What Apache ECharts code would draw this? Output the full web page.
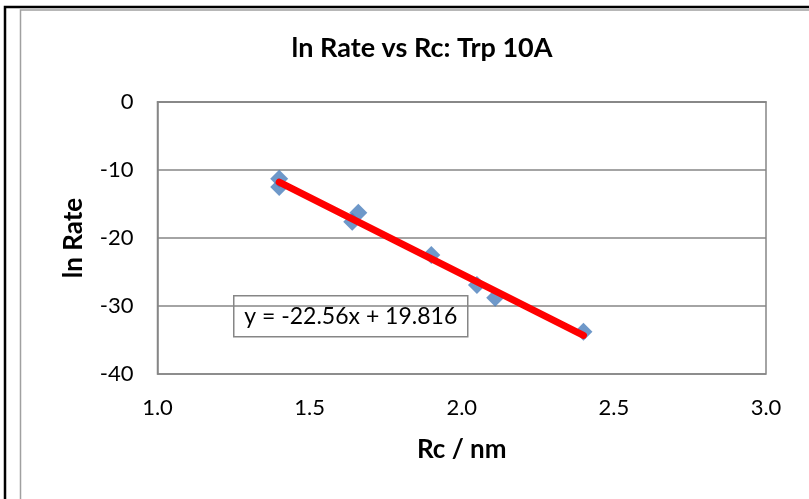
<!DOCTYPE html>
<html>
<head>
<meta charset="utf-8">
<style>
  html, body { margin: 0; padding: 0; background: #fff; }
  #main { width: 809px; height: 499px; }
</style>
<script src="https://cdn.jsdelivr.net/npm/echarts@6/dist/echarts.min.js"></script>
</head>
<body>
<div id="main"></div>
<script>
"use strict";

// Rc (nm) and ln Rate
const rcValues = [1.40, 1.40, 1.66, 1.64, 1.90, 2.05, 2.11, 2.40];
const lnRateValues = [-11.3, -12.5, -16.3, -17.6, -22.5, -26.9, -28.8, -33.8];

// linear trendline end points, y = -22.56x + 19.816
const trendX = [1.4, 2.4];
const trendY = [-11.77, -34.33];

const xTicks = [1.0, 1.5, 2.0, 2.5, 3.0];

const font = 'Lato, "Noto Sans", sans-serif';
const gridGray = '#868686';

let myChart = echarts.init(document.getElementById('main'));

let points = rcValues.map(function (x, i) {
    return [x, lnRateValues[i]];
});
let trend = trendX.map(function (x, i) {
    return [x, trendY[i]];
});

let option = {
    animation: false,
    backgroundColor: '#fff',
    title: {
        text: 'ln Rate vs Rc: Trp 10A',
        left: 417,
        textAlign: 'center',
        top: 30,
        textStyle: {
            fontFamily: font,
            fontWeight: 'bold',
            fontSize: 27,
            color: '#000'
        }
    },
    grid: {
        left: 157.5,
        right: 43,
        top: 102,
        bottom: 125,
        show: true,
        borderColor: gridGray,
        borderWidth: 1.5
    },
    xAxis: {
        type: 'value',
        min: 1.0,
        max: 3.0,
        interval: 0.5,
        name: 'Rc / nm',
        nameLocation: 'middle',
        nameGap: 63,
        nameTextStyle: {
            fontFamily: font,
            fontWeight: 'bold',
            fontSize: 26,
            color: '#000'
        },
        axisLine: { show: true, lineStyle: { color: gridGray, width: 1.5 } },
        axisTick: { show: false },
        splitLine: { show: false },
        axisLabel: {
            margin: 23,
            fontFamily: font,
            fontSize: 22,
            color: '#000',
            formatter: function (v) {
                return xTicks.indexOf(v) >= 0 ? v.toFixed(1) : '';
            }
        }
    },
    yAxis: {
        type: 'value',
        min: -40,
        max: 0,
        interval: 10,
        name: 'ln Rate',
        nameLocation: 'middle',
        nameGap: 71,
        nameRotate: 90,
        nameTextStyle: {
            fontFamily: font,
            fontWeight: 'bold',
            fontSize: 26,
            color: '#000'
        },
        axisLine: { show: true, lineStyle: { color: gridGray, width: 1.5 } },
        axisTick: { show: false },
        splitLine: { show: true, lineStyle: { color: gridGray, width: 1.5 } },
        axisLabel: {
            margin: 24,
            fontFamily: font,
            fontSize: 22,
            color: '#000'
        }
    },
    series: [
        {
            type: 'scatter',
            data: points,
            // square diamond like Excel's marker
            symbol: 'path://M1,0 L2,1 L1,2 L0,1 Z',
            symbolSize: [18, 18],
            itemStyle: { color: '#4a7ebb' },
            z: 2
        },
        {
            type: 'line',
            data: trend,
            symbol: 'none',
            lineStyle: { color: '#ff0000', width: 7, cap: 'round' },
            z: 3
        }
    ],
    graphic: [
        // outer chart frame
        { type: 'rect', shape: { x: 5, y: 7, width: 820, height: 520 },
          style: { fill: 'none', stroke: '#000', lineWidth: 2.5 }, silent: true },
        { type: 'rect', shape: { x: 20.5, y: 10, width: 820, height: 520 },
          style: { fill: 'none', stroke: '#a0a0a0', lineWidth: 1.5 }, silent: true },
        // trendline equation label
        {
            type: 'group',
            left: 233,
            top: 295,
            z: 10,
            children: [
                { type: 'rect', shape: { x: 0, y: 0, width: 234, height: 41 },
                  style: { fill: '#fff', stroke: gridGray, lineWidth: 1.5 } },
                { type: 'text', x: 117, y: 21,
                  style: { text: 'y = -22.56x + 19.816', fontFamily: font, fontSize: 23,
                           fill: '#000', align: 'center', verticalAlign: 'middle' } }
            ]
        }
    ]
};

myChart.setOption(option);
</script>
</body>
</html>
